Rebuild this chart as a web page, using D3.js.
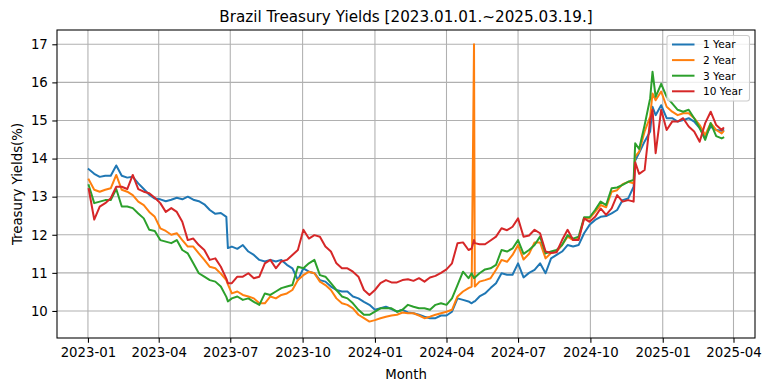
<!DOCTYPE html>
<html>
<head>
<meta charset="utf-8">
<script src="https://cdn.jsdelivr.net/npm/d3@7"></script>
<style>
  html, body { margin: 0; padding: 0; background: #ffffff; }
  svg { display: block; font-family: "DejaVu Sans", sans-serif; }
</style>
</head>
<body>
<svg id="chart" width="771" height="391"></svg>
<script>
// ---------------- DATA ----------------
const dates = [
  "2023-01-02","2023-01-09","2023-01-16","2023-01-23","2023-01-30","2023-02-06","2023-02-13","2023-02-20","2023-02-27",
  "2023-03-06","2023-03-13","2023-03-20","2023-03-27","2023-04-03","2023-04-10","2023-04-17","2023-04-24",
  "2023-05-01","2023-05-08","2023-05-15","2023-05-22","2023-05-29","2023-06-05","2023-06-12","2023-06-19","2023-06-26","2023-06-28",
  "2023-07-03","2023-07-10","2023-07-17","2023-07-24","2023-07-31","2023-08-07","2023-08-14","2023-08-21","2023-08-28",
  "2023-09-04","2023-09-11","2023-09-18","2023-09-25","2023-10-02","2023-10-09","2023-10-16","2023-10-23","2023-10-30",
  "2023-11-06","2023-11-13","2023-11-20","2023-11-27","2023-12-04","2023-12-11","2023-12-18","2023-12-25",
  "2024-01-01","2024-01-08","2024-01-15","2024-01-22","2024-01-29","2024-02-05","2024-02-12","2024-02-19","2024-02-26",
  "2024-03-04","2024-03-11","2024-03-18","2024-03-25","2024-04-01","2024-04-08","2024-04-15","2024-04-22","2024-04-29",
  "2024-05-03","2024-05-06","2024-05-07","2024-05-13","2024-05-20","2024-05-27","2024-06-03","2024-06-10","2024-06-17","2024-06-24",
  "2024-07-01","2024-07-08","2024-07-15","2024-07-22","2024-07-29","2024-08-05","2024-08-12","2024-08-19","2024-08-26",
  "2024-09-02","2024-09-09","2024-09-16","2024-09-23","2024-09-30","2024-10-07","2024-10-14","2024-10-21","2024-10-28",
  "2024-11-04","2024-11-11","2024-11-18","2024-11-25","2024-11-27","2024-12-02","2024-12-09","2024-12-16","2024-12-19","2024-12-23","2024-12-30",
  "2025-01-06","2025-01-13","2025-01-20","2025-01-27","2025-02-03","2025-02-10","2025-02-17","2025-02-24",
  "2025-03-03","2025-03-10","2025-03-17","2025-03-19"
];

const year1 = [
  13.72,13.60,13.52,13.55,13.55,13.82,13.55,13.50,13.52,
  13.35,13.20,13.05,12.95,12.93,12.88,12.92,12.97,
  12.93,13.00,12.92,12.88,12.80,12.65,12.55,12.57,12.47,11.65,
  11.69,11.63,11.73,11.56,11.47,11.34,11.30,11.34,11.30,
  11.34,11.21,11.12,10.81,11.12,11.03,10.99,10.81,10.77,
  10.64,10.55,10.51,10.51,10.38,10.33,10.24,10.16,
  10.03,10.07,10.11,10.05,9.98,10.03,9.96,9.94,9.90,
  9.85,9.81,9.81,9.88,9.88,9.98,10.33,10.29,10.25,
  10.20,10.25,10.25,10.38,10.46,10.60,10.73,10.99,10.95,10.95,
  11.25,10.88,11.00,11.08,11.25,10.99,11.38,11.47,11.56,
  11.73,11.69,11.73,12.04,12.26,12.39,12.47,12.49,12.56,
  12.65,12.91,12.95,13.26,13.95,14.15,14.45,14.71,15.36,15.14,15.40,
  15.06,15.06,14.97,15.01,15.06,14.97,14.80,14.58,
  14.84,14.75,14.73,14.75
];

const year2 = [
  13.45,13.18,13.13,13.18,13.22,13.57,13.18,13.13,13.04,
  12.87,12.78,12.60,12.47,12.17,12.10,12.00,12.04,
  11.86,11.69,11.69,11.51,11.34,11.16,11.12,10.98,10.81,10.70,
  10.46,10.51,10.42,10.38,10.33,10.20,10.20,10.38,10.33,
  10.42,10.46,10.55,10.81,10.94,11.03,10.99,10.77,10.68,
  10.55,10.33,10.20,10.16,10.07,9.90,9.81,9.72,
  9.76,9.81,9.85,9.88,9.90,9.96,9.94,9.94,9.88,
  9.81,9.85,9.90,9.94,9.98,10.03,10.38,10.51,10.60,
  10.64,17.00,10.64,10.77,10.81,10.86,11.08,11.34,11.29,11.47,
  11.73,11.35,11.50,11.80,11.80,11.38,11.52,11.56,11.73,
  11.95,11.86,11.90,12.43,12.43,12.60,12.78,12.72,13.13,
  13.17,13.33,13.39,13.35,14.05,14.18,14.71,15.10,15.71,15.53,15.76,
  15.36,15.23,15.14,15.19,15.19,15.06,14.88,14.62,
  14.93,14.75,14.66,14.71
];

const year3 = [
  13.30,12.83,12.87,12.91,12.91,13.20,12.74,12.74,12.70,
  12.56,12.43,12.13,12.10,11.86,11.82,11.78,11.86,
  11.60,11.51,11.25,10.99,10.90,10.81,10.77,10.64,10.37,10.25,
  10.33,10.38,10.29,10.33,10.24,10.16,10.46,10.42,10.51,
  10.60,10.64,10.68,11.16,11.12,11.25,11.34,10.94,10.90,
  10.73,10.55,10.38,10.33,10.20,10.03,9.90,9.90,
  9.98,10.07,10.07,10.07,9.98,10.03,10.16,10.11,10.07,
  10.07,10.03,10.16,10.20,10.16,10.33,10.68,11.03,10.86,
  10.99,10.86,10.88,10.99,11.09,11.12,11.21,11.60,11.56,11.64,
  11.86,11.50,11.60,11.73,11.95,11.51,11.56,11.60,11.73,
  11.99,11.90,11.95,12.46,12.46,12.65,12.87,12.78,13.22,
  13.24,13.31,13.39,13.44,14.40,14.25,14.88,15.58,16.28,15.62,15.96,
  15.62,15.45,15.28,15.23,15.28,15.06,14.80,14.49,
  14.93,14.59,14.53,14.55
];

const year10 = [
  13.20,12.40,12.74,12.83,12.96,13.26,13.26,13.20,13.57,
  13.20,13.13,13.09,12.97,12.83,12.60,12.70,12.60,
  12.34,11.86,11.90,11.73,11.60,11.34,11.38,11.16,10.85,10.73,
  10.73,10.90,10.90,10.99,10.86,10.90,11.25,11.34,11.12,
  11.30,11.34,11.47,11.60,12.13,11.90,11.99,11.95,11.69,
  11.56,11.25,11.12,11.12,11.03,10.90,10.55,10.42,
  10.55,10.73,10.81,10.75,10.75,10.81,10.83,10.79,10.86,
  10.77,10.88,10.92,11.00,11.09,11.25,11.78,11.80,11.60,
  11.64,11.86,11.78,11.75,11.75,11.85,11.95,12.17,12.12,12.21,
  12.43,11.95,11.98,12.13,12.04,11.56,11.52,11.54,11.86,
  12.13,11.86,11.86,12.43,12.34,12.47,12.69,12.52,12.69,
  13.04,12.87,12.91,12.87,13.90,13.60,13.70,15.01,15.28,14.14,15.28,
  14.75,14.97,14.97,15.06,14.84,14.71,14.44,14.93,
  15.23,14.88,14.75,14.80
];

const seriesNames = ["1 Year", "2 Year", "3 Year", "10 Year"];
const seriesValues = [year1, year2, year3, year10];
const seriesColors = ["#1f77b4", "#ff7f0e", "#2ca02c", "#d62728"];

const xTickLabels = ["2023-01","2023-04","2023-07","2023-10","2024-01","2024-04","2024-07","2024-10","2025-01","2025-04"];
const yTickValues = [10, 11, 12, 13, 14, 15, 16, 17];

const titleText = "Brazil Treasury Yields [2023.01.01.~2025.03.19.]";
const xLabel = "Month";
const yLabel = "Treasury Yields(%)";

// ---------------- LAYOUT ----------------
const W = 771, H = 391;
const plot = { left: 57, right: 755, top: 30, bottom: 338 };

const parse = d3.timeParse("%Y-%m-%d");
const dateObjs = dates.map(parse);

const t0 = d3.min(dateObjs), t1 = d3.max(dateObjs);
const pad = (t1 - t0) * 0.05;
const x = d3.scaleTime()
  .domain([new Date(+t0 - pad), new Date(+t1 + pad)])
  .range([plot.left, plot.right]);

const y = d3.scaleLinear()
  .domain([9.29, 17.375])
  .range([plot.bottom, plot.top]);

const svg = d3.select("#chart");
svg.append("rect").attr("width", W).attr("height", H).attr("fill", "#ffffff");

const tickDates = xTickLabels.map(s => parse(s + "-01"));

// grid
const grid = svg.append("g").attr("class", "grid");
grid.selectAll("line.vx").data(tickDates).enter().append("line")
  .attr("x1", d => x(d)).attr("x2", d => x(d))
  .attr("y1", plot.top).attr("y2", plot.bottom)
  .attr("stroke", "#b0b0b0").attr("stroke-width", 1.07);
grid.selectAll("line.hy").data(yTickValues).enter().append("line")
  .attr("x1", plot.left).attr("x2", plot.right)
  .attr("y1", d => y(d)).attr("y2", d => y(d))
  .attr("stroke", "#b0b0b0").attr("stroke-width", 1.07);

// clip
svg.append("defs").append("clipPath").attr("id", "clip")
  .append("rect").attr("x", plot.left).attr("y", plot.top)
  .attr("width", plot.right - plot.left).attr("height", plot.bottom - plot.top);

// lines
const line = d3.line()
  .x((d, i) => x(dateObjs[i]))
  .y(d => y(d));

const lines = svg.append("g").attr("clip-path", "url(#clip)");
seriesValues.forEach((vals, k) => {
  lines.append("path")
    .datum(vals)
    .attr("d", line)
    .attr("fill", "none")
    .attr("stroke", seriesColors[k])
    .attr("stroke-width", 2)
    .attr("stroke-linejoin", "round")
    .attr("stroke-linecap", "square");
});

// axes
const xAxis = d3.axisBottom(x)
  .tickValues(tickDates)
  .tickFormat((d, i) => xTickLabels[i])
  .tickSizeInner(4.7).tickSizeOuter(0).tickPadding(4.5);
const yAxis = d3.axisLeft(y)
  .tickValues(yTickValues)
  .tickFormat(d3.format("d"))
  .tickSizeInner(4.7).tickSizeOuter(0).tickPadding(4.5);

const gx = svg.append("g").attr("transform", `translate(0,${plot.bottom})`).call(xAxis);
const gy = svg.append("g").attr("transform", `translate(${plot.left},0)`).call(yAxis);
[gx, gy].forEach(g => {
  g.select(".domain").remove();
  g.selectAll(".tick line").attr("stroke", "#000").attr("stroke-width", 1.07);
  g.selectAll(".tick text").attr("fill", "#000")
    .style("font-family", "DejaVu Sans").style("font-size", "13.3px");
});

// frame
svg.append("rect")
  .attr("x", plot.left).attr("y", plot.top)
  .attr("width", plot.right - plot.left).attr("height", plot.bottom - plot.top)
  .attr("fill", "none").attr("stroke", "#000").attr("stroke-width", 1.07);

// title and labels
svg.append("text")
  .attr("x", (plot.left + plot.right) / 2).attr("y", 22)
  .attr("text-anchor", "middle")
  .style("font-size", "15.2px").attr("fill", "#000")
  .text(titleText);
svg.append("text")
  .attr("x", (plot.left + plot.right) / 2).attr("y", 379)
  .attr("text-anchor", "middle")
  .style("font-size", "13.3px").attr("fill", "#000")
  .text(xLabel);
svg.append("text")
  .attr("transform", `translate(22,${(plot.top + plot.bottom) / 2}) rotate(-90)`)
  .attr("text-anchor", "middle")
  .style("font-size", "13.3px").attr("fill", "#000")
  .text(yLabel);

// legend
const lg = svg.append("g");
lg.append("rect")
  .attr("x", 667).attr("y", 35.5).attr("width", 82.5).attr("height", 65.5)
  .attr("rx", 2.5).attr("ry", 2.5)
  .attr("fill", "#ffffff").attr("fill-opacity", 0.8)
  .attr("stroke", "#cccccc").attr("stroke-width", 1.07);
seriesNames.forEach((name, k) => {
  const cy = 44.5 + k * 15.6;
  lg.append("line")
    .attr("x1", 672).attr("x2", 694.5)
    .attr("y1", cy).attr("y2", cy)
    .attr("stroke", seriesColors[k]).attr("stroke-width", 2);
  lg.append("text")
    .attr("x", 703).attr("y", cy + 3.8)
    .style("font-size", "10.6px").attr("fill", "#000")
    .text(name);
});
</script>
</body>
</html>
